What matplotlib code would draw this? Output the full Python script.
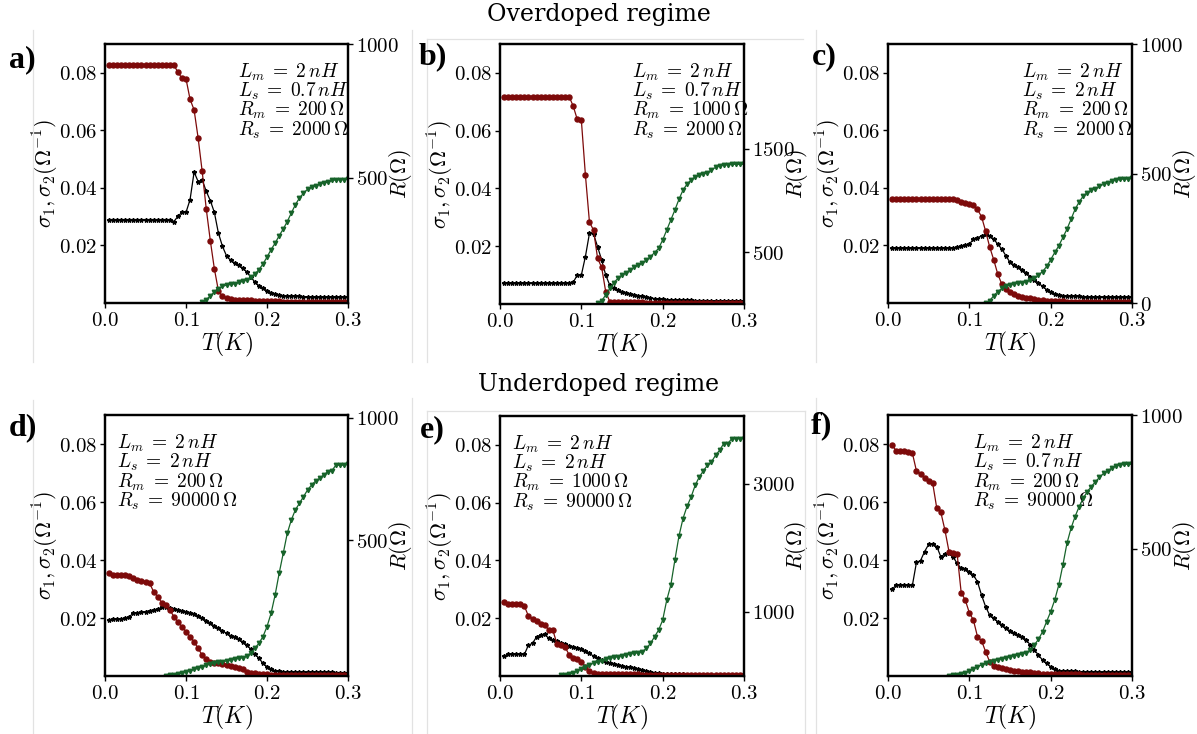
import matplotlib
matplotlib.use("Agg")
import matplotlib.pyplot as plt
from matplotlib.lines import Line2D
from matplotlib.ticker import FuncFormatter
import numpy as np

nan = float("nan")

# temperature grid (K)
T = [0.005, 0.010, 0.015, 0.020, 0.025, 0.030, 0.035, 0.040, 0.045, 0.050,
     0.055, 0.060, 0.065, 0.070, 0.075, 0.080, 0.085, 0.090, 0.095, 0.100,
     0.105, 0.110, 0.115, 0.120, 0.125, 0.130, 0.135, 0.140, 0.145, 0.150,
     0.155, 0.160, 0.165, 0.170, 0.175, 0.180, 0.185, 0.190, 0.195, 0.200,
     0.205, 0.210, 0.215, 0.220, 0.225, 0.230, 0.235, 0.240, 0.245, 0.250,
     0.255, 0.260, 0.265, 0.270, 0.275, 0.280, 0.285, 0.290, 0.295, 0.300]

# ---- panel a ----
a_sig1 = [0.0827, 0.0827, 0.0827, 0.0827, 0.0827, 0.0827, 0.0827, 0.0827, 0.0827, 0.0827,
          0.0827, 0.0827, 0.0827, 0.0827, 0.0827, 0.0827, 0.0827, 0.0802, 0.0781, 0.0779,
          0.0708, 0.0671, 0.0573, 0.0457, 0.0327, 0.0217, 0.0119, 0.0043, 0.0023, 0.0016,
          0.0014, 0.0012, 0.0012, 0.0010, 0.0009, 0.0009, 0.0008, 0.0008, 0.0007, 0.0007,
          0.0006, 0.0006, 0.0006, 0.0005, 0.0005, 0.0005, 0.0005, 0.0005, 0.0004, 0.0004,
          0.0004, 0.0004, 0.0004, 0.0004, 0.0003, 0.0003, 0.0003, 0.0003, 0.0003, 0.0003]
a_sig2 = [0.0290, 0.0290, 0.0290, 0.0290, 0.0290, 0.0290, 0.0290, 0.0290, 0.0290, 0.0290,
          0.0290, 0.0290, 0.0290, 0.0290, 0.0290, 0.0290, 0.0283, 0.0301, 0.0315, 0.0315,
          0.0359, 0.0455, 0.0422, 0.0428, 0.0388, 0.0356, 0.0315, 0.0243, 0.0197, 0.0164,
          0.0148, 0.0139, 0.0132, 0.0121, 0.0108, 0.0090, 0.0073, 0.0060, 0.0051, 0.0043,
          0.0036, 0.0031, 0.0028, 0.0025, 0.0024, 0.0023, 0.0023, 0.0023, 0.0022, 0.0022,
          0.0022, 0.0022, 0.0021, 0.0021, 0.0021, 0.0021, 0.0021, 0.0020, 0.0020, 0.0020]
a_R = [nan, nan, nan, nan, nan, nan, nan, nan, nan, nan,
       nan, nan, nan, nan, nan, nan, nan, nan, nan, nan,
       nan, nan, nan, 32, 42, 57, 71, 84, 92, 97,
       100, 102, 107, 111, 117, 126, 138, 155, 176, 202,
       230, 254, 282, 307, 335, 367, 398, 423, 441, 456,
       463, 469, 476, 481, 482, 489, 491, 492, 492, 494]

# ---- panel b ----
b_sig1 = [0.0718, 0.0718, 0.0718, 0.0718, 0.0718, 0.0718, 0.0718, 0.0718, 0.0718, 0.0718,
          0.0718, 0.0718, 0.0718, 0.0718, 0.0718, 0.0718, 0.0718, 0.0685, 0.0639, 0.0637,
          0.0447, 0.0283, 0.0256, 0.0158, 0.0127, 0.0042, 0.0008, 0.0006, 0.0006, 0.0006,
          0.0006, 0.0006, 0.0006, 0.0006, 0.0006, 0.0005, 0.0005, 0.0005, 0.0005, 0.0005,
          0.0005, 0.0005, 0.0005, 0.0005, 0.0005, 0.0004, 0.0004, 0.0004, 0.0004, 0.0004,
          0.0004, 0.0004, 0.0004, 0.0003, 0.0003, 0.0003, 0.0003, 0.0003, 0.0003, 0.0003]
b_sig2 = [0.0072, 0.0072, 0.0072, 0.0072, 0.0072, 0.0072, 0.0072, 0.0072, 0.0072, 0.0072,
          0.0072, 0.0072, 0.0072, 0.0072, 0.0072, 0.0072, 0.0072, 0.0075, 0.0100, 0.0100,
          0.0164, 0.0245, 0.0242, 0.0198, 0.0152, 0.0100, 0.0065, 0.0055, 0.0048, 0.0043,
          0.0039, 0.0035, 0.0032, 0.0029, 0.0026, 0.0024, 0.0021, 0.0019, 0.0017, 0.0016,
          0.0015, 0.0014, 0.0014, 0.0014, 0.0013, 0.0013, 0.0013, 0.0012, 0.0012, 0.0012,
          0.0012, 0.0011, 0.0011, 0.0011, 0.0011, 0.0010, 0.0010, 0.0010, 0.0010, 0.0010]
b_R = [nan, nan, nan, nan, nan, nan, nan, nan, nan, nan,
       nan, nan, nan, nan, nan, nan, nan, nan, nan, nan,
       nan, nan, nan, 13, 32, 87, 151, 206, 248, 280,
       303, 328, 354, 377, 393, 425, 457, 496, 537, 618,
       714, 811, 907, 1010, 1100, 1158, 1197, 1229, 1242, 1255,
       1268, 1294, 1319, 1335, 1342, 1345, 1348, 1348, 1348, 1348]

# ---- panel c ----
c_sig1 = [0.0362, 0.0362, 0.0362, 0.0362, 0.0362, 0.0362, 0.0362, 0.0362, 0.0362, 0.0362,
          0.0362, 0.0362, 0.0362, 0.0362, 0.0362, 0.0362, 0.0358, 0.0352, 0.0348, 0.0345,
          0.0340, 0.0325, 0.0300, 0.0250, 0.0195, 0.0150, 0.0100, 0.0065, 0.0048, 0.0037,
          0.0030, 0.0026, 0.0022, 0.0019, 0.0016, 0.0013, 0.0011, 0.0009, 0.0008, 0.0007,
          0.0006, 0.0006, 0.0006, 0.0005, 0.0005, 0.0005, 0.0005, 0.0004, 0.0004, 0.0004,
          0.0004, 0.0004, 0.0004, 0.0003, 0.0003, 0.0003, 0.0003, 0.0003, 0.0003, 0.0003]
c_sig2 = [0.0192, 0.0192, 0.0192, 0.0192, 0.0192, 0.0192, 0.0192, 0.0192, 0.0192, 0.0192,
          0.0192, 0.0192, 0.0192, 0.0192, 0.0192, 0.0192, 0.0193, 0.0198, 0.0201, 0.0204,
          0.0222, 0.0227, 0.0233, 0.0239, 0.0233, 0.0222, 0.0204, 0.0187, 0.0164, 0.0141,
          0.0132, 0.0125, 0.0115, 0.0104, 0.0092, 0.0081, 0.0069, 0.0058, 0.0046, 0.0037,
          0.0030, 0.0028, 0.0026, 0.0025, 0.0024, 0.0023, 0.0023, 0.0022, 0.0022, 0.0022,
          0.0021, 0.0021, 0.0021, 0.0021, 0.0020, 0.0020, 0.0020, 0.0020, 0.0020, 0.0020]
c_R = [nan, nan, nan, nan, nan, nan, nan, nan, nan, nan,
       nan, nan, nan, nan, nan, nan, nan, nan, nan, nan,
       nan, nan, nan, 0, 9, 28, 44, 56, 64, 69,
       73, 77, 79, 83, 88, 96, 108, 121, 141, 167,
       195, 221, 253, 285, 323, 362, 390, 413, 426, 436,
       441, 451, 458, 464, 471, 474, 477, 479, 479, 481]

# ---- panel d ----
d_sig1 = [0.0354, 0.0348, 0.0348, 0.0348, 0.0348, 0.0345, 0.0337, 0.0331, 0.0329, 0.0325,
          0.0320, 0.0291, 0.0274, 0.0253, 0.0245, 0.0228, 0.0205, 0.0187, 0.0170, 0.0153,
          0.0136, 0.0118, 0.0095, 0.0072, 0.0057, 0.0049, 0.0046, 0.0044, 0.0040, 0.0037,
          0.0034, 0.0032, 0.0029, 0.0023, 0.0015, 0.0011, 0.0009, 0.0007, 0.0006, 0.0006,
          0.0005, 0.0005, 0.0005, 0.0005, 0.0005, 0.0005, 0.0004, 0.0004, 0.0004, 0.0004,
          0.0004, 0.0004, 0.0004, 0.0003, 0.0003, 0.0003, 0.0003, 0.0003, 0.0003, 0.0003]
d_sig2 = [0.0193, 0.0197, 0.0197, 0.0197, 0.0199, 0.0205, 0.0216, 0.0216, 0.0220, 0.0222,
          0.0225, 0.0228, 0.0230, 0.0237, 0.0239, 0.0233, 0.0230, 0.0228, 0.0225, 0.0221,
          0.0216, 0.0213, 0.0207, 0.0199, 0.0191, 0.0182, 0.0172, 0.0164, 0.0156, 0.0147,
          0.0139, 0.0133, 0.0126, 0.0118, 0.0107, 0.0092, 0.0076, 0.0061, 0.0044, 0.0032,
          0.0023, 0.0018, 0.0016, 0.0015, 0.0015, 0.0015, 0.0015, 0.0015, 0.0014, 0.0014,
          0.0014, 0.0014, 0.0013, 0.0013, 0.0013, 0.0013, 0.0012, 0.0012, 0.0012, 0.0012]
d_R = [nan, nan, nan, nan, nan, nan, nan, nan, nan, nan,
       nan, nan, nan, nan, -55, -52, -50, -47, -44, -39,
       -33, -28, -24, -17, -11, -6, -3, 1, 4, 6,
       10, 13, 17, 20, 27, 38, 58, 79, 106, 147,
       201, 276, 365, 446, 528, 583, 624, 651, 678, 705,
       726, 742, 753, 767, 780, 784, 807, 807, 807, 810]

# ---- panel e ----
e_sig1 = [0.0257, 0.0249, 0.0249, 0.0249, 0.0249, 0.0242, 0.0207, 0.0199, 0.0191, 0.0180,
          0.0176, 0.0159, 0.0159, 0.0111, 0.0107, 0.0101, 0.0073, 0.0061, 0.0058, 0.0050,
          0.0032, 0.0018, 0.0009, 0.0007, 0.0006, 0.0006, 0.0006, 0.0006, 0.0006, 0.0006,
          0.0006, 0.0006, 0.0006, 0.0006, 0.0005, 0.0005, 0.0005, 0.0005, 0.0005, 0.0005,
          0.0005, 0.0005, 0.0005, 0.0005, 0.0004, 0.0004, 0.0004, 0.0004, 0.0004, 0.0004,
          0.0004, 0.0004, 0.0003, 0.0003, 0.0003, 0.0003, 0.0003, 0.0003, 0.0003, 0.0003]
e_sig2 = [0.0069, 0.0075, 0.0075, 0.0075, 0.0075, 0.0075, 0.0107, 0.0113, 0.0136, 0.0142,
          0.0144, 0.0130, 0.0124, 0.0122, 0.0115, 0.0111, 0.0104, 0.0099, 0.0096, 0.0092,
          0.0088, 0.0078, 0.0069, 0.0061, 0.0055, 0.0050, 0.0044, 0.0040, 0.0037, 0.0035,
          0.0032, 0.0030, 0.0027, 0.0023, 0.0021, 0.0017, 0.0015, 0.0012, 0.0009, 0.0007,
          0.0006, 0.0006, 0.0006, 0.0006, 0.0006, 0.0005, 0.0005, 0.0005, 0.0005, 0.0005,
          0.0005, 0.0005, 0.0005, 0.0004, 0.0004, 0.0004, 0.0004, 0.0004, 0.0004, 0.0004]
e_R = [nan, nan, nan, nan, nan, nan, nan, nan, nan, nan,
       nan, nan, nan, nan, 10, 21, 31, 52, 83, 114,
       146, 172, 198, 218, 239, 260, 276, 291, 302, 317,
       333, 343, 354, 364, 380, 431, 509, 613, 717, 873,
       1185, 1419, 1809, 2183, 2459, 2651, 2797, 2979, 3109, 3202,
       3291, 3343, 3447, 3525, 3629, 3629, 3707, 3707, 3707, 3707]

# ---- panel f ----
f_sig1 = [0.0797, 0.0776, 0.0776, 0.0776, 0.0774, 0.0768, 0.0707, 0.0697, 0.0682, 0.0672,
          0.0664, 0.0578, 0.0564, 0.0503, 0.0429, 0.0425, 0.0421, 0.0287, 0.0262, 0.0218,
          0.0193, 0.0136, 0.0122, 0.0084, 0.0049, 0.0034, 0.0030, 0.0026, 0.0023, 0.0021,
          0.0018, 0.0016, 0.0015, 0.0014, 0.0013, 0.0010, 0.0009, 0.0008, 0.0007, 0.0007,
          0.0007, 0.0007, 0.0006, 0.0006, 0.0006, 0.0006, 0.0006, 0.0005, 0.0005, 0.0005,
          0.0005, 0.0005, 0.0004, 0.0004, 0.0004, 0.0004, 0.0003, 0.0003, 0.0003, 0.0003]
f_sig2 = [0.0299, 0.0313, 0.0313, 0.0313, 0.0313, 0.0313, 0.0392, 0.0398, 0.0429, 0.0454,
          0.0454, 0.0446, 0.0411, 0.0421, 0.0423, 0.0411, 0.0388, 0.0371, 0.0368, 0.0360,
          0.0348, 0.0325, 0.0279, 0.0239, 0.0210, 0.0199, 0.0187, 0.0176, 0.0164, 0.0155,
          0.0147, 0.0141, 0.0136, 0.0124, 0.0107, 0.0090, 0.0072, 0.0055, 0.0044, 0.0032,
          0.0023, 0.0018, 0.0016, 0.0016, 0.0016, 0.0016, 0.0015, 0.0015, 0.0015, 0.0015,
          0.0015, 0.0014, 0.0014, 0.0014, 0.0014, 0.0014, 0.0013, 0.0013, 0.0013, 0.0013]
f_R = [nan, nan, nan, nan, nan, nan, nan, nan, nan, nan,
       nan, nan, nan, nan, 26, 28, 30, 33, 38, 46,
       53, 61, 67, 73, 78, 83, 87, 91, 94, 98,
       102, 104, 108, 113, 123, 142, 163, 191, 229, 266,
       310, 366, 440, 521, 577, 621, 658, 689, 714, 733,
       751, 767, 782, 792, 801, 811, 813, 816, 816, 816]

panel_tags = ["a)", "b)", "c)", "d)", "e)", "f)"]
Lm = ["2", "2", "2", "2", "2", "2"]
Ls = ["0.7", "0.7", "2", "2", "2", "0.7"]
Rm = ["200", "1000", "200", "200", "1000", "200"]
Rs = ["2000", "2000", "2000", "90000", "90000", "90000"]
R_ticks = [[0, 500, 1000], [500, 1500], [0, 500, 1000],
           [500, 1000], [1000, 3000], [500, 1000]]
R_lims = [(30, 1000), (0, 2510), (0, 1000), (-55, 1012), (0, 4060), (26, 1000)]

sig1_all = [a_sig1, b_sig1, c_sig1, d_sig1, e_sig1, f_sig1]
sig2_all = [a_sig2, b_sig2, c_sig2, d_sig2, e_sig2, f_sig2]
R_all = [a_R, b_R, c_R, d_R, e_R, f_R]

RED = "#7d0a0a"
GREEN = "#17632a"

plt.rcParams["mathtext.fontset"] = "cm"
plt.rcParams["font.family"] = "serif"

W, H = 1197, 734
fig = plt.figure(figsize=(W / 100, H / 100), dpi=100)
fig.patch.set_facecolor("white")

# axes boxes in pixels: left, top, right, bottom
boxes = [(105, 44, 348, 303), (500, 44, 744, 304), (888, 44, 1132, 303),
         (105, 415, 348, 676), (500, 416, 744, 676), (888, 415, 1132, 676)]
tag_pos = [(9, 60), (419, 57), (812, 57), (9, 428), (420, 430), (811, 426)]
text_x = [0.548, 0.542, 0.55, 0.05, 0.05, 0.348]


def px(x, y):
    return x / W, 1 - y / H


# faint frames of the pasted sub-images
frame_lines = [((33, 30), (33, 362)), ((412, 30), (412, 362)), ((427, 39), (427, 362)),
               ((427, 39), (803, 39)), ((816, 30), (816, 362)),
               ((33, 400), (33, 734)), ((412, 398), (412, 734)), ((427, 411), (427, 734)),
               ((427, 411), (805, 411)), ((805, 411), (805, 734)), ((816, 398), (816, 734))]
for p0, p1 in frame_lines:
    x0, y0 = px(*p0)
    x1, y1 = px(*p1)
    fig.add_artist(Line2D([x0, x1], [y0, y1], transform=fig.transFigure,
                          color="#e2e2e2", lw=0.9))

fmt_x = FuncFormatter(lambda v, p: f"${v:.1f}$")
fmt_s = FuncFormatter(lambda v, p: f"${v:.2f}$")
fmt_r = FuncFormatter(lambda v, p: f"${v:.0f}$")

for i in range(6):
    l, t, r, b = boxes[i]
    ax = fig.add_axes([l / W, 1 - b / H, (r - l) / W, (b - t) / H])
    ax.plot(T, sig2_all[i], color="black", marker="*", ms=3.2, lw=0.9, zorder=3)
    ax.plot(T, sig1_all[i], color=RED, marker="o", ms=3.6, lw=0.9, zorder=4)
    ax.set_xticks([0.0, 0.1, 0.2, 0.3])
    ax.set_yticks([0.02, 0.04, 0.06, 0.08])
    ax.set_xlim(0, 0.3)
    ax.set_ylim(0, 0.09)
    ax.xaxis.set_major_formatter(fmt_x)
    ax.yaxis.set_major_formatter(fmt_s)
    ax.set_xlabel(r"$T(K)$", fontsize=17)
    ax.set_ylabel(r"$\sigma_1,\sigma_2(\Omega^{-1})$", fontsize=16)
    ax.yaxis.set_label_coords(-0.18, 0.5)
    ax.xaxis.set_label_coords(0.5, -0.105)
    ax.tick_params(labelsize=15, length=3.5, width=1, direction="out", pad=2)

    ax2 = ax.twinx()
    ax2.plot(T, R_all[i], color=GREEN, marker="v", ms=3.2, lw=0.9)
    ax2.set_yticks(R_ticks[i])
    ax2.set_ylim(*R_lims[i])
    ax2.yaxis.set_major_formatter(fmt_r)
    ax2.set_ylabel(r"$R(\Omega)$", fontsize=16)
    ax2.yaxis.set_label_coords(1.16, 0.5)
    ax2.tick_params(labelsize=15, length=3.5, width=1, direction="out", pad=2)

    for a in (ax, ax2):
        for s in a.spines.values():
            s.set_linewidth(1.6)

    lines = [rf"$L_m\;=\;{Lm[i]}\,nH$", rf"$L_s\;=\;{Ls[i]}\,nH$",
             rf"$R_m\;=\;{Rm[i]}\,\Omega$", rf"$R_s\;=\;{Rs[i]}\,\Omega$"]
    for k, s in enumerate(lines):
        ax.text(text_x[i], 0.892 - k * 0.0745, s, transform=ax.transAxes,
                fontsize=14, ha="left", va="center", zorder=6)

    tx, ty = px(*tag_pos[i])
    fig.text(tx, ty, panel_tags[i], fontsize=23, fontweight="bold",
             family="Liberation Serif", ha="left", va="center")

fig.text(0.5, 1 - 15 / H, "Overdoped regime", fontsize=17, family="DejaVu Serif",
         ha="center", va="center")
fig.text(0.5, 1 - 385 / H, "Underdoped regime", fontsize=17, family="DejaVu Serif",
         ha="center", va="center")

fig.savefig("out.png", dpi=100, facecolor="white")
